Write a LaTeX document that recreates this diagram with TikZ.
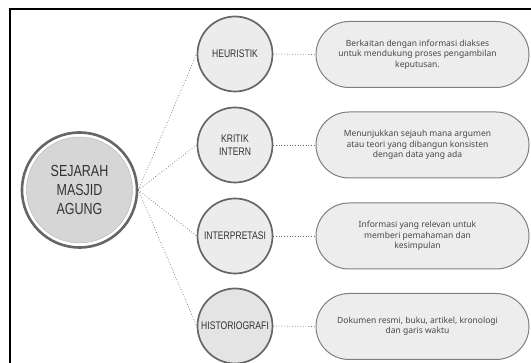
\documentclass[tikz,border=0pt]{standalone}
\usepackage{fontspec}
\setmainfont{Noto Sans}
\newfontfamily\condfont[FakeStretch=0.78]{Liberation Sans}
\usetikzlibrary{shapes.misc}
\definecolor{ringc}{HTML}{666666}
\definecolor{circfill}{HTML}{ECECEC}
\definecolor{histfill}{HTML}{E4E4E4}
\definecolor{mainfill}{HTML}{D6D6D6}
\definecolor{pillfill}{HTML}{EDEDED}
\definecolor{pilldraw}{HTML}{7F7F7F}
\definecolor{txt}{HTML}{333333}
\definecolor{dtxt}{HTML}{474747}
\definecolor{linkc}{HTML}{6A6A6A}
\tikzset{
  topic/.style={circle, draw=ringc, line width=1.7pt, fill=circfill, minimum size=75pt, inner sep=0pt,
    font=\condfont\fontsize{11}{12.5}\selectfont, text=txt, align=center},
  pill/.style={rounded rectangle, draw=pilldraw, line width=1pt, fill=pillfill, minimum width=213pt, minimum height=66pt, inner sep=0pt},
  desc/.style={font=\fontsize{8.5}{10.5}\selectfont, text=dtxt, align=center},
  link/.style={draw=linkc, dotted, line width=0.7pt},
  frame/.style={draw=black, line width=2pt}
}
\begin{document}
\begin{tikzpicture}[x=1pt,y=-1pt]
\useasboundingbox (0,0) rectangle (531,363);
\draw[frame] (10,364) -- (10,9) -- (532,9);
% main circle
\node[circle, draw=ringc, line width=2.6pt, fill=white, minimum size=115pt, inner sep=0pt] (main) at (79.5,190) {};
\node[circle, draw=gray!60, line width=0.4pt, fill=mainfill, minimum size=106pt, inner sep=0pt,
  font=\condfont\fontsize{16}{19}\selectfont, text=txt, align=center] (maintext) at (79.5,190) {SEJARAH\\MASJID\\AGUNG};
% topic circles
\node[topic] (t1) at (235,54) {HEURISTIK};
\node[topic] (t2) at (235,145) {KRITIK\\INTERN};
\node[topic] (t3) at (235,236) {INTERPRETASI};
\node[topic, fill=histfill] (t4) at (235,326) {HISTORIOGRAFI};
% pills
\node[pill, label={[desc, xshift=-5pt]center:Berkaitan dengan informasi diakses\\untuk mendukung proses pengambilan\\keputusan.}] (p1) at (422.5,54.5) {};
\node[pill, label={[desc, xshift=-5pt]center:Menunjukkan sejauh mana argumen\\atau teori yang dibangun konsisten\\dengan data yang ada}] (p2) at (422.5,145) {};
\node[pill, label={[desc, xshift=-5pt]center:Informasi yang relevan untuk\\memberi pemahaman dan\\kesimpulan}] (p3) at (422.5,236) {};
\node[pill, label={[desc, xshift=-5pt]center:Dokumen resmi, buku, artikel, kronologi\\dan garis waktu}] (p4) at (422.5,326.5) {};
% connectors
\foreach \i in {1,2,3,4}{
  \draw[link] (main.east) -- (t\i.west);
  \draw[link] (t\i.east) -- (p\i.west);
}
\end{tikzpicture}
\end{document}
